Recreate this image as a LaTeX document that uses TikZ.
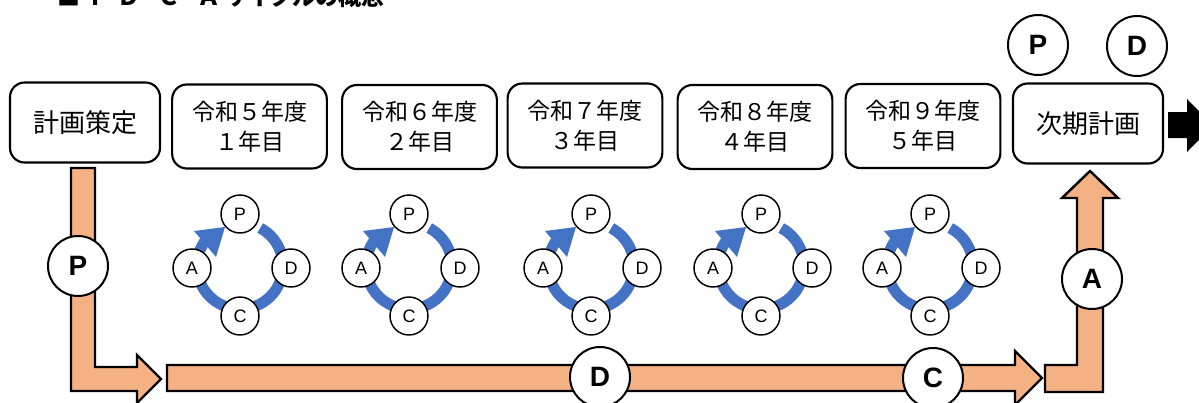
\documentclass[tikz,border=0pt]{standalone}
\usepackage{fontspec}
\setmainfont{Liberation Sans}
\newfontfamily\jpfont{Noto Sans CJK JP}
\definecolor{flowfill}{HTML}{F4B183}
\definecolor{ringblue}{HTML}{4472C4}
\tikzset{
  yearbox/.style={draw, line width=1.6pt, rounded corners=11pt, fill=white, minimum width=116pt, minimum height=63pt, align=center, inner sep=0pt, font=\jpfont\fontsize{17.25pt}{22.5pt}\selectfont},
  planbox/.style={yearbox, minimum width=112.5pt, minimum height=60pt, font=\jpfont\fontsize{19.5pt}{24pt}\selectfont},
  stepcirc/.style={draw, circle, line width=1.5pt, fill=white, minimum size=45pt, inner sep=0pt, font=\bfseries\fontsize{21pt}{21pt}\selectfont},
  minicirc/.style={draw, circle, line width=1.1pt, fill=white, minimum size=28.5pt, inner sep=0pt, font=\fontsize{13.5pt}{13.5pt}\selectfont},
  cyclering/.style={draw=ringblue, line width=8.25pt},
  flowarrow/.style={draw, fill=flowfill, line width=1.8pt, line join=miter}
}

\begin{document}
\begin{tikzpicture}[x=0.75pt,y=0.75pt,yscale=-1,xscale=1]
\useasboundingbox (0,0) rectangle (1199,403);
\clip (0,0) rectangle (1199,403);

% Title
\node [anchor=base west, inner sep=0pt, font=\jpfont\bfseries\fontsize{17.25pt}{17.25pt}\selectfont] (title) at (57,6) {■\hspace{6pt}Ｐ\hspace{4.5pt}Ｄ\hspace{12.75pt}Ｃ\hspace{12.75pt}Ａ\hspace{3pt}サイクルの概念};

% Boxes
\node [planbox] (plan) at (85,122.5) {計画策定};
\node [yearbox] (y1) at (249.5,126.5) {令和５年度\\１年目};
\node [yearbox] (y2) at (419.5,127) {令和６年度\\２年目};
\node [yearbox] (y3) at (585,125.5) {令和７年度\\３年目};
\node [yearbox] (y4) at (755,127) {令和８年度\\４年目};
\node [yearbox] (y5) at (923,126) {令和９年度\\５年目};
\node [planbox] (next) at (1088,123.5) {次期計画};

% Black arrow, right edge
\fill (1168,112) -- (1187,112) -- (1187,99) -- (1213,125.5) -- (1187,152) -- (1187,138) -- (1168,138) -- cycle;

% Top circles
\node [stepcirc] (ptop) at (1038,45) {P};
\node [stepcirc] (dtop) at (1137,46) {D};

% Orange arrows
\draw [flowarrow] (71,168) -- (95,168) -- (95,367) -- (137,367) -- (137,355) -- (161,379) -- (137,403) -- (137,391) -- (71,391) -- cycle;
\draw [flowarrow] (167,365) -- (1015,365) -- (1015,351) -- (1042,378) -- (1015,405) -- (1015,391) -- (167,391) -- cycle;
\draw [flowarrow] (1045,365) -- (1077,365) -- (1077,198) -- (1062,198) -- (1090,171) -- (1118,198) -- (1103,198) -- (1103,392) -- (1045,392) -- cycle;

% Circles on the arrows
\node [stepcirc] (pstep) at (78,266) {P};
\node [stepcirc] (dstep) at (600,377) {D};
\node [stepcirc] (cstep) at (933,378) {C};
\node [stepcirc] (astep) at (1092,279) {A};

% Cycle 1
\begin{scope}[shift={(240,266)}]
\draw [cyclering] (-62:43) arc [start angle=-62, end angle=217, radius=43];
\fill [ringblue] (-15,-39) -- (-46,-35) -- (-24,-9) -- cycle;
\node [minicirc] (p1) at (0,-52) {P};
\node [minicirc] (d1) at (51,2) {D};
\node [minicirc] (c1) at (0,50) {C};
\node [minicirc] (a1) at (-48,2) {A};
\end{scope}

% Cycle 2
\begin{scope}[shift={(409,266)}]
\draw [cyclering] (-62:43) arc [start angle=-62, end angle=217, radius=43];
\fill [ringblue] (-15,-39) -- (-46,-35) -- (-24,-9) -- cycle;
\node [minicirc] (p2) at (0,-52) {P};
\node [minicirc] (d2) at (51,2) {D};
\node [minicirc] (c2) at (0,50) {C};
\node [minicirc] (a2) at (-48,2) {A};
\end{scope}

% Cycle 3
\begin{scope}[shift={(591,266)}]
\draw [cyclering] (-62:43) arc [start angle=-62, end angle=217, radius=43];
\fill [ringblue] (-15,-39) -- (-46,-35) -- (-24,-9) -- cycle;
\node [minicirc] (p3) at (0,-52) {P};
\node [minicirc] (d3) at (51,2) {D};
\node [minicirc] (c3) at (0,50) {C};
\node [minicirc] (a3) at (-48,2) {A};
\end{scope}

% Cycle 4
\begin{scope}[shift={(761,266)}]
\draw [cyclering] (-62:43) arc [start angle=-62, end angle=217, radius=43];
\fill [ringblue] (-15,-39) -- (-46,-35) -- (-24,-9) -- cycle;
\node [minicirc] (p4) at (0,-52) {P};
\node [minicirc] (d4) at (51,2) {D};
\node [minicirc] (c4) at (0,50) {C};
\node [minicirc] (a4) at (-48,2) {A};
\end{scope}

% Cycle 5
\begin{scope}[shift={(930,266)}]
\draw [cyclering] (-62:43) arc [start angle=-62, end angle=217, radius=43];
\fill [ringblue] (-15,-39) -- (-46,-35) -- (-24,-9) -- cycle;
\node [minicirc] (p5) at (0,-52) {P};
\node [minicirc] (d5) at (51,2) {D};
\node [minicirc] (c5) at (0,50) {C};
\node [minicirc] (a5) at (-48,2) {A};
\end{scope}

\end{tikzpicture}
\end{document}
